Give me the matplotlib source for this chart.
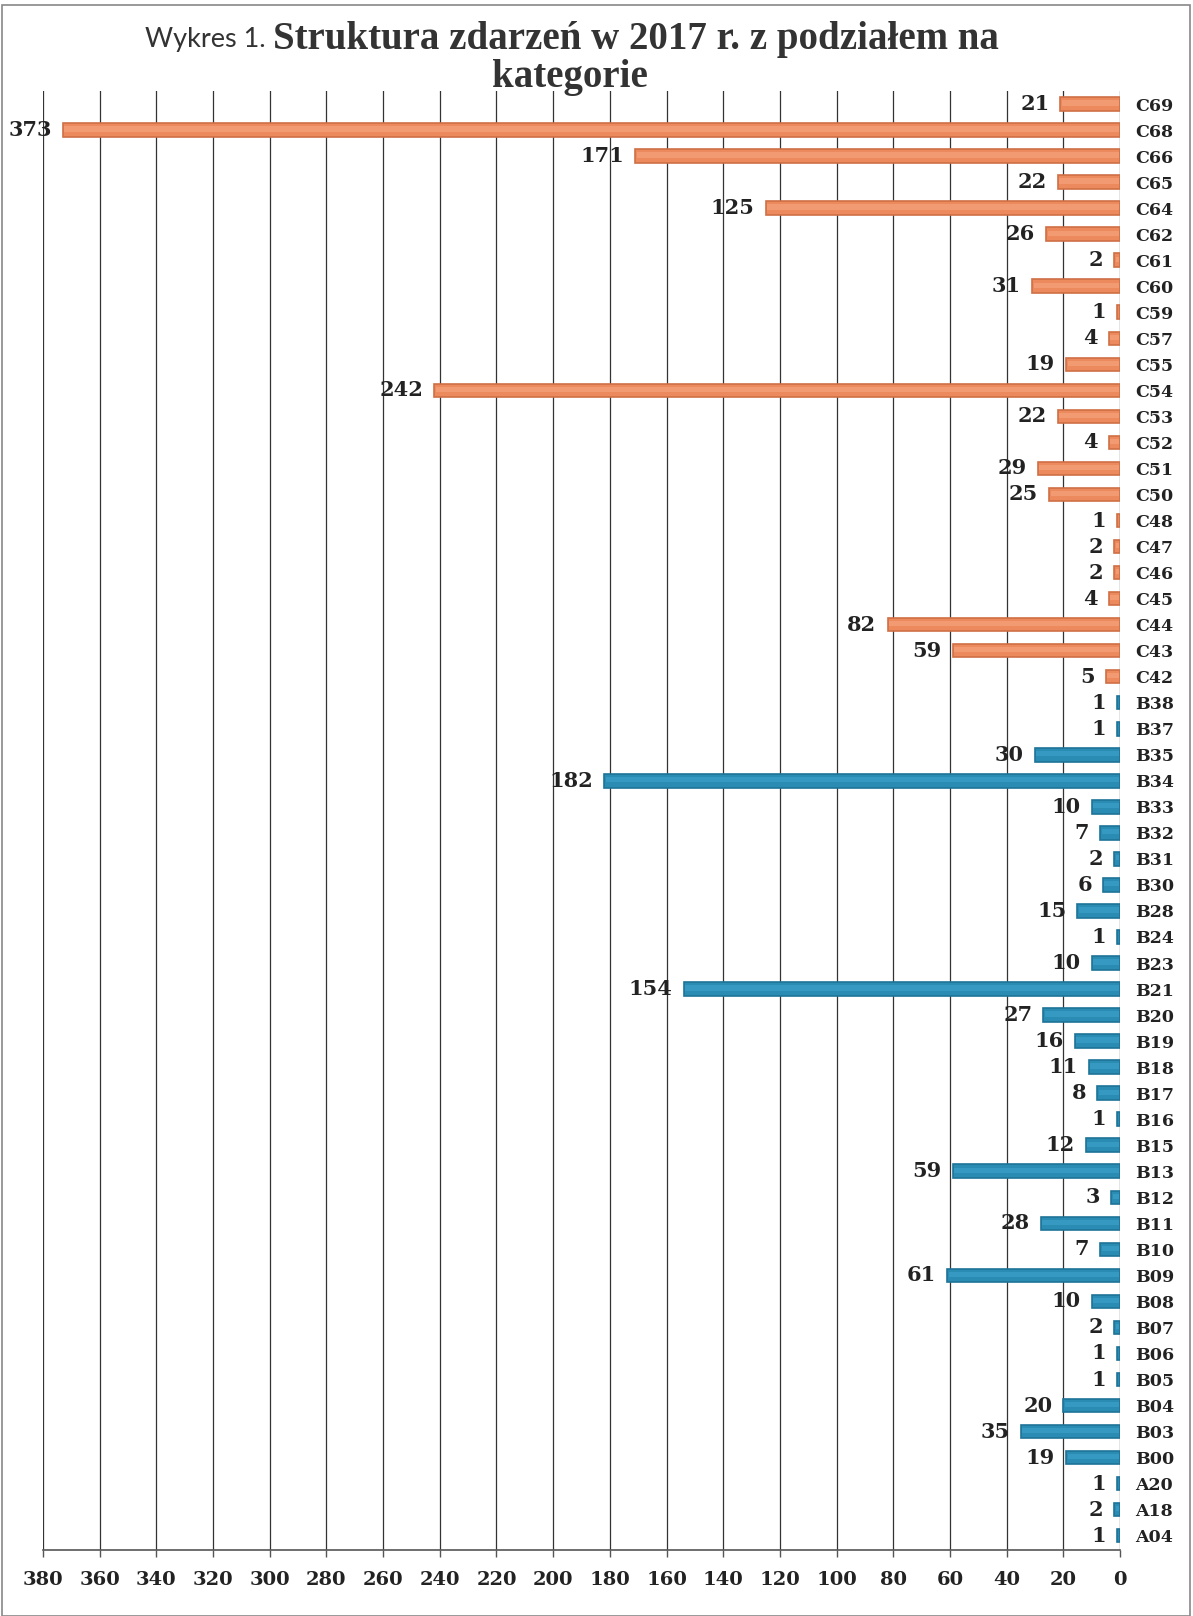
import matplotlib
matplotlib.use("Agg")
import matplotlib.pyplot as plt
from matplotlib.patches import Rectangle

categories = ["C69", "C68", "C66", "C65", "C64", "C62", "C61", "C60", "C59", "C57",
              "C55", "C54", "C53", "C52", "C51", "C50", "C48", "C47", "C46", "C45",
              "C44", "C43", "C42",
              "B38", "B37", "B35", "B34", "B33", "B32", "B31", "B30", "B28", "B24",
              "B23", "B21", "B20", "B19", "B18", "B17", "B16", "B15", "B13", "B12",
              "B11", "B10", "B09", "B08", "B07", "B06", "B05", "B04", "B03", "B00",
              "A20", "A18", "A04"]
values = [21, 373, 171, 22, 125, 26, 2, 31, 1, 4,
          19, 242, 22, 4, 29, 25, 1, 2, 2, 4,
          82, 59, 5,
          1, 1, 30, 182, 10, 7, 2, 6, 15, 1,
          10, 154, 27, 16, 11, 8, 1, 12, 59, 3,
          28, 7, 61, 10, 2, 1, 1, 20, 35, 19,
          1, 2, 1]
xticks = list(range(0, 381, 20))

ORANGE = "#EC895D"
ORANGE_LIGHT = "#F29A72"
ORANGE_EDGE = "#CF6F45"
BLUE = "#2A8BB3"
BLUE_LIGHT = "#3599C2"
BLUE_EDGE = "#1F7398"

W, H = 1193, 1616
fig = plt.figure(figsize=(W / 100, H / 100), dpi=100)
fig.patch.set_facecolor("white")

left, right = 43 / W, 1120 / W
bottom, top = 1 - 1550 / H, 1 - 91 / H
ax = fig.add_axes([left, bottom, right - left, top - bottom])

is_c = [c.startswith("C") for c in categories]
colors = [ORANGE if c else BLUE for c in is_c]
lights = [ORANGE_LIGHT if c else BLUE_LIGHT for c in is_c]
edges = [ORANGE_EDGE if c else BLUE_EDGE for c in is_c]
ypos = list(range(len(categories)))
ax.barh(ypos, values, height=0.52, color=colors, edgecolor=edges, linewidth=1.2, zorder=3)
ax.barh([y - 0.04 for y in ypos], [max(v - 1.0, 0) for v in values], left=0.5,
        height=0.2, color=lights, linewidth=0, zorder=3.5)

ax.set_xlim(380, 0)
ax.set_ylim(len(categories) - 0.45, -0.5)
ax.set_xticks(xticks)
ax.set_xticklabels([str(t) for t in xticks], fontfamily="DejaVu Serif",
                   fontweight="bold", fontsize=14, color="#222222")
ax.tick_params(axis="x", direction="out", length=5, width=1, color="#555555", pad=10)
ax.grid(axis="x", color="#333333", linewidth=0.9, zorder=0)
ax.grid(axis="y", visible=False)

ax.yaxis.tick_right()
ax.set_yticks(ypos)
ax.set_yticklabels(categories, fontfamily="DejaVu Serif", fontweight="bold",
                   fontsize=12.5, color="#222222")
ax.tick_params(axis="y", length=0, pad=11)

for s in ["top", "left", "right"]:
    ax.spines[s].set_visible(False)
ax.spines["bottom"].set_color("#555555")
ax.spines["bottom"].set_linewidth(1.2)

for y, v in zip(ypos, values):
    ax.annotate(str(v), xy=(v, y), xytext=(-8, 0), textcoords="offset points",
                ha="right", va="center", fontfamily="DejaVu Serif", fontweight="bold",
                fontsize=15, color="#222222", annotation_clip=False, zorder=4)

# title
ty1 = 1 - 40 / H
t1a = fig.text(0, ty1, "Wykres 1. ", fontfamily="Lato", fontsize=19.5,
               color="#333333", ha="left", va="center")
t1b = fig.text(0, ty1, "Struktura zdarzeń w 2017 r. z podziałem na",
               fontfamily="Liberation Serif", fontweight="bold", fontsize=28,
               color="#333333", ha="left", va="center")
fig.text(570 / W, 1 - 78 / H, "kategorie", fontfamily="Liberation Serif",
         fontweight="bold", fontsize=28, color="#333333", ha="center", va="center")
fig.canvas.draw()
r = fig.canvas.get_renderer()
wa = t1a.get_window_extent(r).width
wb = t1b.get_window_extent(r).width
x0 = 572 - (wa + wb) / 2
t1a.set_x(x0 / W)
t1b.set_x((x0 + wa) / W)

# figure frame
fig.add_artist(Rectangle((2 / W, 0), (W - 5) / W, 1 - 5 / H, transform=fig.transFigure,
                         fill=False, edgecolor="#888888", linewidth=1.2))

fig.savefig("out.png", dpi=100)
